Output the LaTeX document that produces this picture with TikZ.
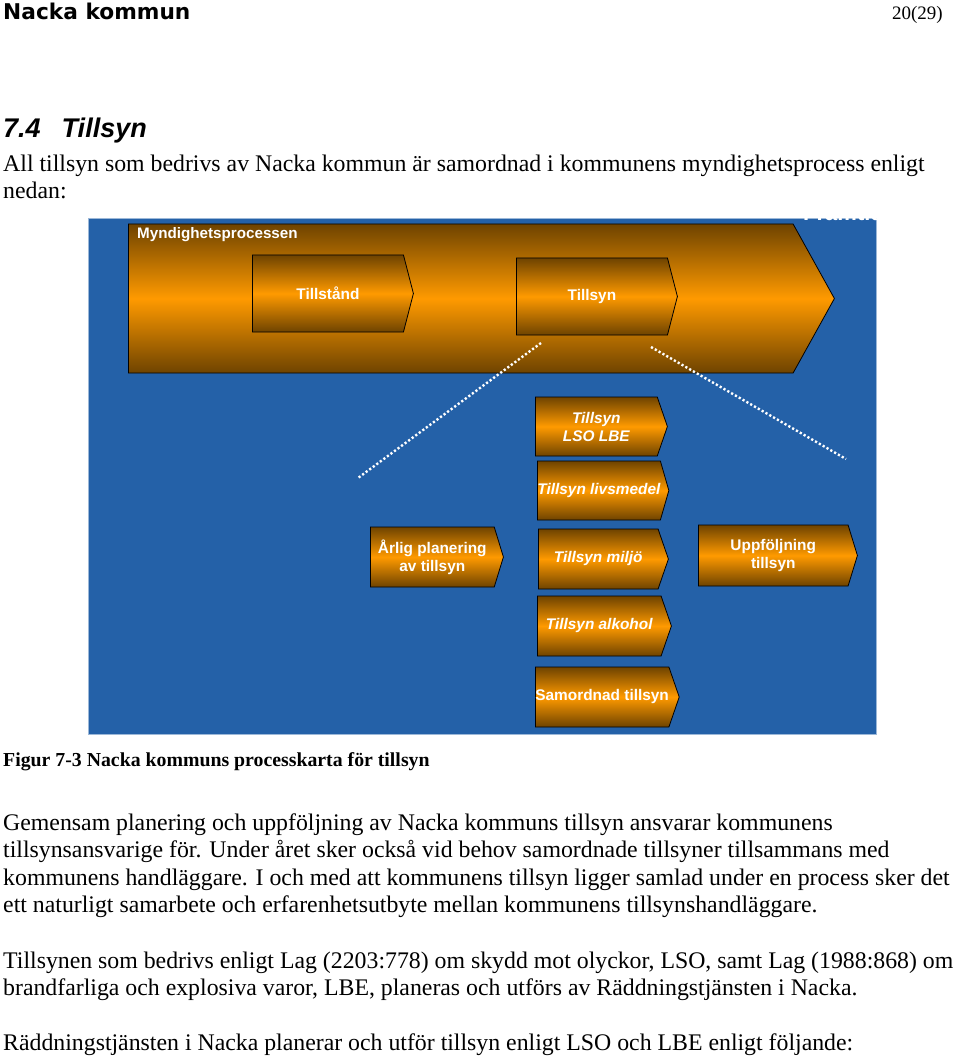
\documentclass[tikz,border=0pt]{standalone}
\usepackage{fontspec}
\setmainfont{Liberation Serif}
\newfontfamily\arialfont{Liberation Sans}
\newfontfamily\headfont{DejaVu Sans}
\usetikzlibrary{shapes.symbols, positioning}
\usepackage{xcolor}
\definecolor{panelblue}{HTML}{2461A8}
\definecolor{amber}    {HTML}{FF9A00}
\definecolor{umber}    {HTML}{6E4300}
\tikzset{
  stage/.style    = {signal, signal to=east, draw=black, line width=0.8pt,
                     top color=umber, bottom color=umber, middle color=amber,
                     inner sep=0pt, align=center, text=white, anchor=west,
                     font=\arialfont\bfseries\fontsize{15.4}{18}\selectfont},
  substage/.style = {stage, font=\arialfont\bfseries\itshape\fontsize{15.4}{18}\selectfont},
  link/.style     = {white, line width=2.4pt, dash pattern=on 2.2pt off 2.2pt},
  bodytxt/.style  = {anchor=base west, inner sep=0pt,
                     font=\fontsize{23.8}{27}\selectfont},
}

\begin{document}
\begin{tikzpicture}[x=1pt, y=-1pt]
  \useasboundingbox (0,0) rectangle (960,1056);

  % --- page head ---
  \node[anchor=base west, inner sep=0pt, font=\headfont\bfseries\fontsize{21.7}{24}\selectfont]
        (head) at (3,20) {Nacka kommun};
  \node[anchor=base east, inner sep=0pt, font=\fontsize{19}{22}\selectfont]
        (pageno) at (943,20) {20(29)};
  \node[anchor=base west, inner sep=0pt, font=\arialfont\bfseries\itshape\fontsize{27}{30}\selectfont]
        (sec) at (3,138) {7.4\hspace{21pt}Tillsyn};
  \node[bodytxt] (intro1) at (3,172)
        {All tillsyn som bedrivs av Nacka kommun är samordnad i kommunens myndighetsprocess enligt};
  \node[bodytxt] (intro2) at (3,199) {nedan:};

  % --- diagram panel ---
  \node[fill=panelblue, draw=panelblue!45!white, line width=1pt, inner sep=0pt,
        minimum width=788, minimum height=516, anchor=north west] (panel) at (88,218) {};
  \begin{scope}
    \clip (panel.north west) rectangle (panel.south east);
    \node[anchor=base west, inner sep=0pt, text=white,
          font=\arialfont\bfseries\fontsize{22}{24}\selectfont] (future) at (803,221) {Framtid};
  \end{scope}

  % --- main process ---
  \node[stage, minimum width=706, minimum height=149,
        signal pointer angle=122] (proc) at (128,298.5) {};
  \node[anchor=west, inner sep=0pt, text=white,
        font=\arialfont\bfseries\fontsize{15.2}{17}\selectfont] (proclbl) at (137,235)
        {Myndighetsprocessen};
  \node[stage, minimum width=161, minimum height=77,
        signal pointer angle=151] (permit) at (252,293.5) {Tillstånd};
  \node[stage, minimum width=161, minimum height=77,
        signal pointer angle=151] (insp) at (516,296.5) {Tillsyn};

  % --- sub processes ---
  \node[substage, minimum width=132, minimum height=59,
        signal pointer angle=142] (lso)  at (535,426.5) {Tillsyn\\LSO LBE};
  \node[substage, minimum width=127, minimum height=59,
        signal pointer angle=148] (food) at (537,490.5) {Tillsyn livsmedel};
  \node[stage, minimum width=133, minimum height=60,
        signal pointer angle=146] (plan) at (370,557) {Årlig planering\\av tillsyn};
  \node[substage, minimum width=130, minimum height=60,
        signal pointer angle=142] (env)  at (538,559) {Tillsyn miljö};
  \node[stage, minimum width=159, minimum height=61,
        signal pointer angle=146] (follow) at (698,555.5) {Uppföljning\\tillsyn};
  \node[substage, minimum width=134, minimum height=60,
        signal pointer angle=142] (alc)  at (537,626) {Tillsyn alkohol};
  \node[stage, minimum width=136, minimum height=60,
        signal pointer angle=142] (joint) at (535,697) {Samordnad tillsyn};

  % --- zoom lines ---
  \coordinate (zl1) at (541,343);
  \coordinate (zl2) at (358,478);
  \coordinate (zr1) at (651,347);
  \coordinate (zr2) at (846,459);
  \draw[link] (zl1) -- (zl2);
  \draw[link] (zr1) -- (zr2);

  % --- caption and text ---
  \node[anchor=base west, inner sep=0pt, font=\bfseries\fontsize{19.8}{22}\selectfont]
        (cap) at (3,766) {Figur 7-3 Nacka kommuns processkarta för tillsyn};
  \node[bodytxt] (p1a) at (3,830)
        {Gemensam planering och uppföljning av Nacka kommuns tillsyn ansvarar kommunens};
  \node[bodytxt] (p1b) at (3,857)
        {tillsynsansvarige för. Under året sker också vid behov samordnade tillsyner tillsammans med};
  \node[bodytxt] (p1c) at (3,885)
        {kommunens handläggare. I och med att kommunens tillsyn ligger samlad under en process sker det};
  \node[bodytxt] (p1d) at (3,912)
        {ett naturligt samarbete och erfarenhetsutbyte mellan kommunens tillsynshandläggare.};
  \node[bodytxt] (p2a) at (3,968)
        {Tillsynen som bedrivs enligt Lag (2203:778) om skydd mot olyckor, LSO, samt Lag (1988:868) om};
  \node[bodytxt] (p2b) at (3,995)
        {brandfarliga och explosiva varor, LBE, planeras och utförs av Räddningstjänsten i Nacka.};
  \node[bodytxt] (p3) at (3,1050)
        {Räddningstjänsten i Nacka planerar och utför tillsyn enligt LSO och LBE enligt följande:};

\end{tikzpicture}
\end{document}
